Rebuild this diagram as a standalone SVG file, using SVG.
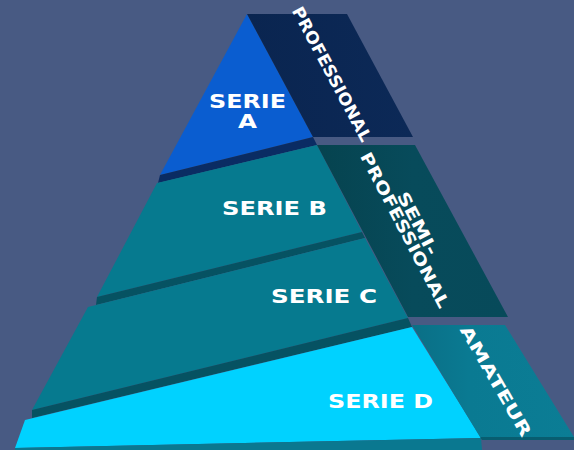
<svg xmlns="http://www.w3.org/2000/svg" width="574" height="450" viewBox="0 0 574 450">
  <style>
    .lbl { font-family: "DejaVu Sans", "Liberation Sans", sans-serif; font-weight: bold; fill: #ffffff; font-size: 19px; text-anchor: middle; }
    .side { font-family: "DejaVu Sans", "Liberation Sans", sans-serif; font-weight: bold; fill: #ffffff; font-size: 16.5px; text-anchor: middle; }
  </style>
  <defs>
    <linearGradient id="gAm" x1="0" y1="0" x2="1" y2="0">
      <stop offset="0" stop-color="#0a6f86"/>
      <stop offset="0.35" stop-color="#0a7a92"/>
      <stop offset="1" stop-color="#0b7d95"/>
    </linearGradient>
    <linearGradient id="gSemi" x1="0" y1="0" x2="1" y2="0">
      <stop offset="0" stop-color="#06434f"/>
      <stop offset="0.5" stop-color="#074b5b"/>
      <stop offset="1" stop-color="#074a5a"/>
    </linearGradient>
    <linearGradient id="gPro" x1="0" y1="0" x2="1" y2="0">
      <stop offset="0" stop-color="#0a2550"/>
      <stop offset="1" stop-color="#0c2957"/>
    </linearGradient>
  </defs>
  <rect x="0" y="0" width="574" height="450" fill="#485a83"/>

  <g id="serie-a">
    <polygon points="247,14 313,137 160,175" fill="#0a5dd0"/>
    <polygon points="160,175 313,137 317,145 158,183" fill="#0a2c63"/>
    <text class="lbl" x="247.5" y="108" textLength="77" lengthAdjust="spacingAndGlyphs">SERIE</text>
    <text class="lbl" x="247.5" y="128" textLength="19" lengthAdjust="spacingAndGlyphs">A</text>
  </g>

  <g id="professional">
    <polygon points="247,14 347,14 413,137 313,137" fill="url(#gPro)"/>
    <text class="side" transform="translate(332,74) rotate(62)" x="0" y="6" textLength="150" lengthAdjust="spacingAndGlyphs">PROFESSIONAL</text>
  </g>

  <g id="serie-b">
    <polygon points="157,183 317,145 362,232 97,297" fill="#067a8f"/>
    <polygon points="97,297 362,232 365,238 96,305" fill="#065262"/>
    <text class="lbl" x="274.5" y="215" textLength="105" lengthAdjust="spacingAndGlyphs">SERIE B</text>
  </g>

  <g id="semi-professional">
    <polygon points="317,145 415,145 508,317 408,317" fill="url(#gSemi)"/>
    <g transform="translate(405,230) rotate(62.5)">
      <text class="side" x="0" y="-8.5" textLength="69" lengthAdjust="spacingAndGlyphs">SEMI-</text>
      <text class="side" x="0" y="6" textLength="173" lengthAdjust="spacingAndGlyphs">PROFESSIONAL</text>
    </g>
  </g>

  <g id="serie-c">
    <polygon points="88,307 365,238 408,318 32,410" fill="#067a8f"/>
    <polygon points="32,410 408,318 412,327 32,418" fill="#065262"/>
    <text class="lbl" x="324" y="303" textLength="106" lengthAdjust="spacingAndGlyphs">SERIE C</text>
  </g>

  <g id="serie-d">
    <polygon points="25,420 412,327 481,438 15,448" fill="#00d2ff"/>
    <polygon points="15,448 481,438 482,450 15,450" fill="#0a7890"/>
    <text class="lbl" x="380.5" y="408" textLength="105" lengthAdjust="spacingAndGlyphs">SERIE D</text>
  </g>

  <g id="amateur">
    <polygon points="412,325 505,325 574,437 480,437" fill="url(#gAm)"/>
    <polygon points="480,437 574,437 574,440 482,440" fill="#085d70"/>
    <text class="side" transform="translate(496,381) rotate(60)" x="0" y="6" textLength="125" lengthAdjust="spacingAndGlyphs">AMATEUR</text>
  </g>

  <g id="connectors"></g>
</svg>
